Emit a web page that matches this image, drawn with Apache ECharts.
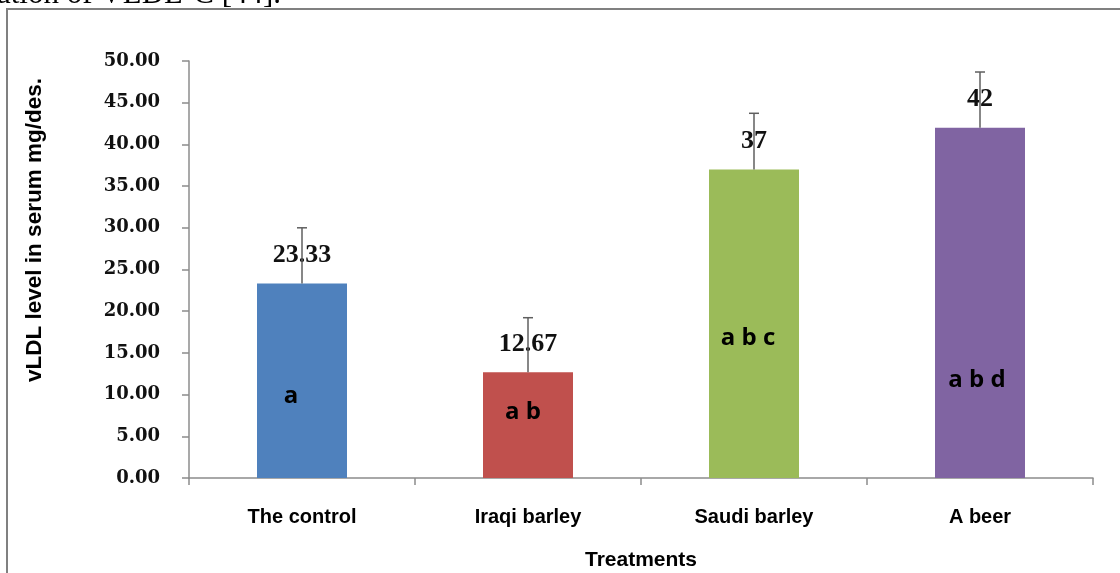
<!DOCTYPE html>
<html>
<head>
<meta charset="utf-8">
<script src="https://cdn.jsdelivr.net/npm/echarts@6/dist/echarts.min.js"></script>
<style>html,body{margin:0;padding:0;background:#fff;}#c{width:1120px;height:573px;}</style>
</head>
<body>
<div id="c"></div>
<script>
// ---- data ----
const categories = ['The control', 'Iraqi barley', 'Saudi barley', 'A beer'];
const values = [23.33, 12.67, 37, 42];
const valueLabels = ['23.33', '12.67', '37', '42'];
const errors = [6.67, 6.55, 6.73, 6.68];
const letters = ['a', 'a b', 'a b c', 'a b d'];
const yTicks = [0, 5, 10, 15, 20, 25, 30, 35, 40, 45, 50];
const colors = ['#4F81BD', '#C0504D', '#9BBB59', '#8064A2'];

// ---- layout (pixels, not data) ----
const letterDist = [70, 54, 128, 86];
const letterDx = [-11, -5, -6, -3];

const chart = echarts.init(document.getElementById('c'), null, {renderer: 'canvas'});

const option = {
  animation: false,
  backgroundColor: '#fff',
  grid: {left: 189, right: 27, top: 61, bottom: 95, containLabel: false, outerBoundsMode: 'none'},
  graphic: [
    {type: 'text', x: -3, y: -21, z: 0,
     style: {text: 'ation of VLDL-C [44].', font: '31px "Liberation Serif"', fill: '#000'}},
    {type: 'rect', shape: {x: 7, y: 9, width: 1200, height: 700}, z: 1,
     style: {fill: 'none', stroke: '#808080', lineWidth: 2}}
  ],
  xAxis: {
    type: 'category',
    data: categories,
    name: 'Treatments',
    nameLocation: 'middle',
    nameGap: 72,
    nameTextStyle: {fontFamily: 'Liberation Sans', fontWeight: 'bold', fontSize: 21, color: '#000'},
    axisLine: {lineStyle: {color: '#8c8c8c', width: 1.5}},
    axisTick: {show: true, alignWithLabel: false, length: 7, lineStyle: {color: '#8c8c8c', width: 1.5}},
    axisLabel: {margin: 29, fontFamily: 'Liberation Sans', fontWeight: 'bold', fontSize: 20, color: '#000'}
  },
  yAxis: {
    type: 'value',
    min: 0, max: 50, interval: 5,
    name: 'vLDL level in serum mg/des.',
    nameLocation: 'middle',
    nameGap: 143,
    nameRotate: 90,
    nameTextStyle: {fontFamily: 'Liberation Sans', fontWeight: 'bold', fontSize: 22.5, color: '#000', padding: [0, 0, 0, 79]},
    splitLine: {show: false},
    axisLine: {show: true, lineStyle: {color: '#8c8c8c', width: 1.5}},
    axisTick: {show: true, length: 7, lineStyle: {color: '#8c8c8c', width: 1.5}},
    axisLabel: {
      margin: 29,
      fontFamily: 'DejaVu Serif', fontWeight: 'bold', fontSize: 18, color: '#111',
      formatter: v => yTicks.indexOf(v) >= 0 ? v.toFixed(2) : ''
    }
  },
  series: [
    {
      type: 'bar',
      barWidth: 90,
      data: values.map((v, i) => ({value: v, itemStyle: {color: colors[i]}})),
      label: {
        show: true, position: 'top', distance: 15,
        formatter: p => valueLabels[p.dataIndex],
        fontFamily: 'Liberation Serif', fontWeight: 'bold', fontSize: 26, color: '#111'
      },
      z: 2
    },
    {
      type: 'bar',
      barWidth: 90,
      barGap: '-100%',
      silent: true,
      data: values.map((v, i) => ({
        value: v,
        itemStyle: {color: 'rgba(0,0,0,0)'},
        label: {distance: letterDist[i], offset: [letterDx[i], 0]}
      })),
      label: {
        show: true, position: 'insideBottom',
        formatter: p => letters[p.dataIndex],
        fontFamily: 'Open Sans', fontWeight: 'bold', fontSize: 24, color: '#000'
      },
      z: 3
    },
    {
      type: 'custom',
      data: values.map((v, i) => [i, v, v + errors[i]]),
      renderItem: (params, api) => {
        const x = api.value(0);
        const p0 = api.coord([x, api.value(1)]);
        const p1 = api.coord([x, api.value(2)]);
        const cap = 5;
        return {
          type: 'group',
          children: [
            {type: 'line', shape: {x1: p0[0], y1: p0[1], x2: p1[0], y2: p1[1]},
             style: {stroke: '#5f5f5f', lineWidth: 1.5}},
            {type: 'line', shape: {x1: p1[0] - cap, y1: p1[1], x2: p1[0] + cap, y2: p1[1]},
             style: {stroke: '#5f5f5f', lineWidth: 1.5}}
          ]
        };
      },
      z: 4
    }
  ]
};
chart.setOption(option);
</script>
</body>
</html>
